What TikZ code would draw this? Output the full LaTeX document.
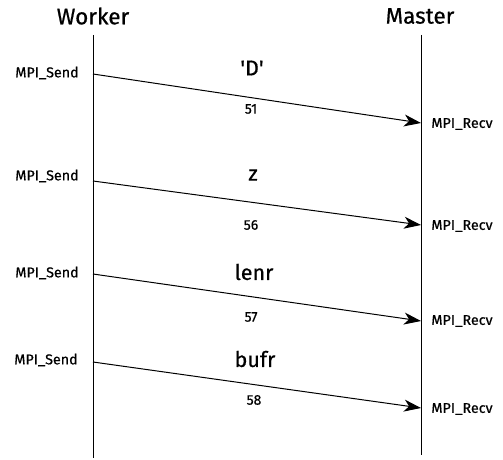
\documentclass[tikz,border=0pt]{standalone}
\usepackage{fontspec}
\setmainfont{Fira Sans}[FakeBold=0.6]
\usetikzlibrary{arrows.meta}
\begin{document}
\begin{tikzpicture}[x=1pt,y=-1pt,
  life/.style={line width=1pt},
  msg/.style={line width=1pt,-{Stealth[length=17pt,width=12pt,inset=5pt]}},
  head/.style={font=\fontsize{22.5}{26}\selectfont},
  call/.style={font=\fontsize{14.3}{17}\selectfont},
  payload/.style={font=\fontsize{21.5}{25}\selectfont},
  tag/.style={font=\fontsize{14}{16}\selectfont}]
\useasboundingbox (0,0) rectangle (503,460);
\node[head] (worker) at (93,16) {Worker};
\node[head] (master) at (420,16) {Master};
\coordinate (wtop) at (93,35);
\coordinate (wbot) at (93,458);
\coordinate (mtop) at (421,35);
\coordinate (mbot) at (421,455);
\draw[life] (wtop) -- (wbot);
\draw[life] (mtop) -- (mbot);
% message 1
\coordinate (s1) at (93,74); \coordinate (r1) at (421,123);
\draw[msg] (s1) -- (r1);
\node[call] (send1) at (47,73) {MPI\_Send};
\node[call] (recv1) at (462,124) {MPI\_Recv};
\node[payload] (p1) at (252,68) {\textquotesingle D\textquotesingle};
\node[tag] (t1) at (251,109) {51};
% message 2
\coordinate (s2) at (93,181); \coordinate (r2) at (421,225);
\draw[msg] (s2) -- (r2);
\node[call] (send2) at (47,176) {MPI\_Send};
\node[call] (recv2) at (462,226) {MPI\_Recv};
\node[payload] (p2) at (253,175) {z};
\node[tag] (t2) at (251,225) {56};
% message 3
\coordinate (s3) at (93,274); \coordinate (r3) at (421,321);
\draw[msg] (s3) -- (r3);
\node[call] (send3) at (47,273) {MPI\_Send};
\node[call] (recv3) at (462,321) {MPI\_Recv};
\node[payload] (p3) at (254,272) {lenr};
\node[tag] (t3) at (251,317) {57};
% message 4
\coordinate (s4) at (93,362); \coordinate (r4) at (421,408);
\draw[msg] (s4) -- (r4);
\node[call] (send4) at (46,360) {MPI\_Send};
\node[call] (recv4) at (462,409) {MPI\_Recv};
\node[payload] (p4) at (255,359) {bufr};
\node[tag] (t4) at (254,400) {58};
\end{tikzpicture}
\end{document}
